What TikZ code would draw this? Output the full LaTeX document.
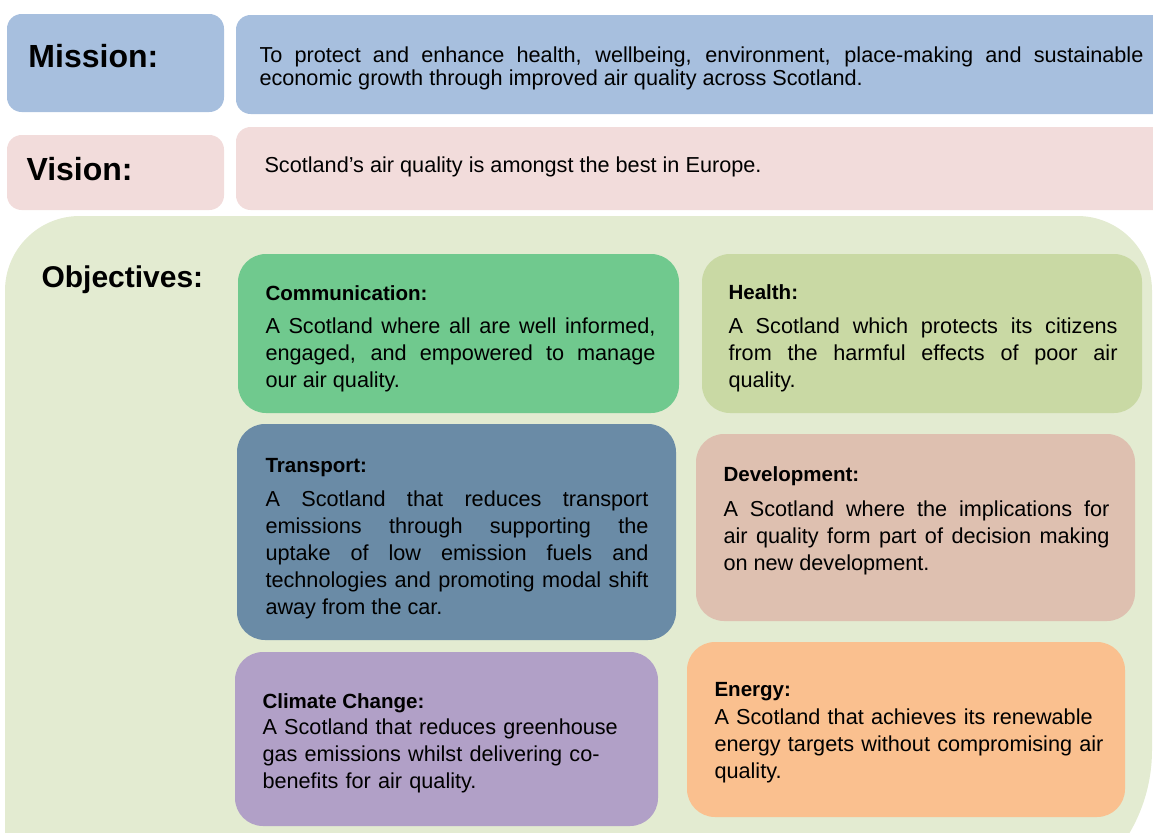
\documentclass[tikz,border=0pt]{standalone}
\usepackage{fontspec}
\setmainfont{Liberation Sans}

\definecolor{missionblue}{RGB}{167,191,222}
\definecolor{visionpink}{RGB}{242,220,219}
\definecolor{objgreen}{RGB}{227,235,209}
\definecolor{commgreen}{RGB}{112,201,142}
\definecolor{healthgreen}{RGB}{201,217,164}
\definecolor{transblue}{RGB}{106,139,166}
\definecolor{devbrown}{RGB}{222,192,176}
\definecolor{climpurple}{RGB}{177,160,199}
\definecolor{energyorange}{RGB}{250,192,143}

\tikzset{every picture/.style={line width=0.75pt}}
\tikzset{
  panel/.style={rounded corners=11pt},
  objbox/.style={rounded corners=21pt},
  boxlabel/.style={anchor=base west, inner sep=0pt, font=\fontsize{24}{28}\selectfont\bfseries},
  objhead/.style={anchor=base west, inner sep=0pt, font=\fontsize{15.4}{20}\selectfont\bfseries},
  objline/.style={anchor=base west, inner sep=0pt, font=\fontsize{16.25}{20.25}\selectfont},
  objtext/.style={objline, align=justify},
  objragged/.style={objline, align=left, text width=300pt},
}

\begin{document}
\begin{tikzpicture}[x=0.75pt,y=0.75pt,yscale=-1,xscale=1]
\useasboundingbox (0,0) rectangle (1153,832);
\clip (0,0) rectangle (1153,832);

%Rounded Rect
\fill [missionblue, panel] (7,14) rectangle (224,112) ;
%Rounded Rect
\fill [missionblue, panel] (236,15) rectangle (1180,114) ;
%Rounded Rect
\fill [visionpink, panel] (7,135) rectangle (224,210) ;
%Rounded Rect
\fill [visionpink, panel] (236,127) rectangle (1180,210) ;
%Shape: Objectives background
\fill [objgreen] (5,914) [rounded corners=56pt] -- (5,216) -- (1152,216) [rounded corners=123pt] -- (1152,914) [sharp corners] -- cycle ;

%Rounded Rect
\fill [commgreen, objbox] (238,254) rectangle (679,413) ;
%Rounded Rect
\fill [healthgreen, objbox] (702,254) rectangle (1142,413) ;
%Rounded Rect
\fill [transblue, objbox] (237,424) rectangle (676,640) ;
%Rounded Rect
\fill [devbrown, objbox] (696,434) rectangle (1135,621) ;
%Rounded Rect
\fill [climpurple, objbox] (235,652) rectangle (658,826) ;
%Rounded Rect
\fill [energyorange, objbox] (687,642) rectangle (1125,817) ;

% Text Node
\draw (28,67) node [boxlabel] (mislabel) {Mission:};
% Text Node
\draw (26,180) node [boxlabel] (vislabel) {Vision:};
% Text Node
\draw (41,287) node [boxlabel, font=\fontsize{22.5}{27}\selectfont\bfseries] (objlabel) {Objectives:};

% Text Node
\draw (259,62) node [objtext, text width=663pt, font=\fontsize{16.25}{17.25}\selectfont] (mistext) {To protect and enhance health, wellbeing, environment, place-making and sustainable\linebreak economic growth through improved air quality across Scotland.};
% Text Node
\draw (264,172) node [objline] (vistext) {Scotland’s air quality is amongst the best in Europe.};

% Text Node
\draw (265,300) node [objhead] (commhead) {Communication:};
% Text Node
\draw (265,333) node [objtext, text width=292.5pt] (commtext) {A Scotland where all are well informed,\linebreak engaged, and empowered to manage\linebreak our air quality.};
% Text Node
\draw (728,299) node [objhead] (healthhead) {Health:};
% Text Node
\draw (728,333) node [objtext, text width=291.75pt] (healthtext) {A Scotland which protects its citizens\linebreak from the harmful effects of poor air\linebreak quality.};
% Text Node
\draw (265,472) node [objhead] (transhead) {Transport:};
% Text Node
\draw (265,506) node [objtext, text width=287.25pt] (transtext) {A Scotland that reduces transport\linebreak emissions through supporting the\linebreak uptake of low emission fuels and\linebreak technologies and promoting modal shift\linebreak away from the car.};
% Text Node
\draw (723,481) node [objhead] (devhead) {Development:};
% Text Node
\draw (723,516) node [objtext, text width=289.5pt] (devtext) {A Scotland where the implications for\linebreak air quality form part of decision making\linebreak on new development.};
% Text Node
\draw (262,708) node [objhead] (climhead) {Climate Change:};
% Text Node
\draw (262,734) node [objragged] (climtext) {A Scotland that reduces greenhouse\\gas emissions whilst delivering co-\\benefits for air quality.};
% Text Node
\draw (714,696) node [objhead] (energyhead) {Energy:};
% Text Node
\draw (714,724) node [objragged] (energytext) {A Scotland that achieves its renewable\\energy targets without compromising air\\quality.};

\end{tikzpicture}
\end{document}
